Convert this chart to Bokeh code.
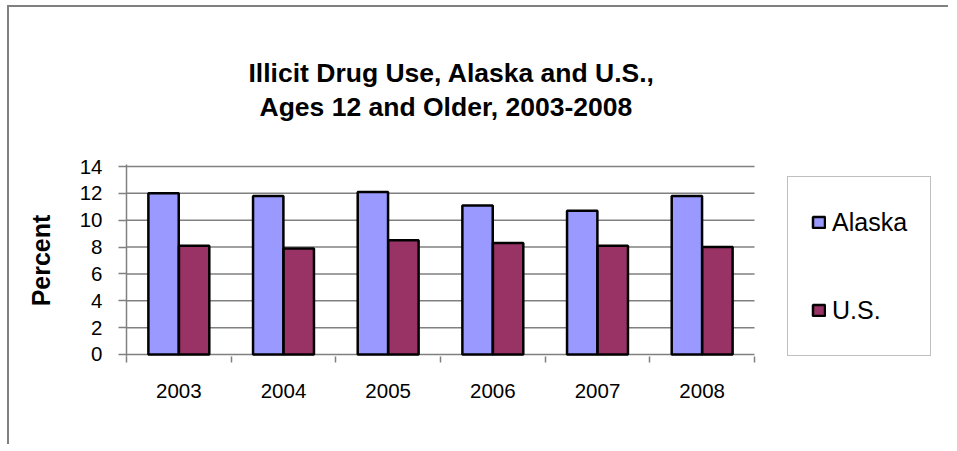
import numpy as np
from bokeh.plotting import figure
from bokeh.models import (ColumnDataSource, FixedTicker, Legend, LegendItem, Title,
                          InlineStyleSheet, Range1d)
from bokeh.embed import file_html
from bokeh.resources import INLINE

years = ["2003", "2004", "2005", "2006", "2007", "2008"]
alaska = [12.0, 11.8, 12.1, 11.1, 10.7, 11.8]
us = [8.1, 7.9, 8.5, 8.3, 8.1, 8.0]
y_ticks = [0, 2, 4, 6, 8, 10, 12, 14]
title_lines = ["Illicit Drug Use, Alaska and U.S.,", "Ages 12 and Older, 2003-2008"]

FONT = "Liberation Sans"
GRAY = "#808080"

n = len(years)
centers = np.arange(n) + 0.5
offset = 0.146
bar_w = 0.29

W, H = 948, 444
LEFT, RIGHT_PAD = 126, 0
frame_w = W - LEFT - RIGHT_PAD
x_end = n * frame_w / 628.0

src = ColumnDataSource(dict(
    xa=centers - offset, xu=centers + offset, alaska=alaska, us=us, year=years))
grid_src = ColumnDataSource(dict(x0=[0] * len(y_ticks), x1=[n] * len(y_ticks),
                                 y=y_ticks))

p = figure(width=W, height=H, output_backend="svg", toolbar_location=None,
           x_range=Range1d(0, x_end), y_range=Range1d(-0.15, 14.15),
           min_border_left=LEFT, min_border_right=RIGHT_PAD, min_border_top=164,
           min_border_bottom=H - 356, outline_line_color=None,
           background_fill_color="white", border_fill_color="white")

p.stylesheets = [InlineStyleSheet(css=""":host { position: relative; }
:host::before { content: ''; position: absolute; left: 7px; top: 5px; right: 0px; bottom: 0px;
 border-top: 2px solid #808080; border-left: 2px solid #808080;
 pointer-events: none; z-index: 50; }""")]

p.xgrid.visible = False
p.ygrid.visible = False

# horizontal gridlines spanning only the category area
p.segment(x0="x0", x1="x1", y0="y", y1="y", source=grid_src,
          line_color=GRAY, line_width=1.5)

r1 = p.vbar(x="xa", top="alaska", width=bar_w, bottom=0, source=src,
            fill_color="#9999FF", line_color="black", line_width=2.5)
r2 = p.vbar(x="xu", top="us", width=bar_w, bottom=0, source=src,
            fill_color="#993366", line_color="black", line_width=2.5)

# y axis
ya = p.yaxis[0]
ya.ticker = FixedTicker(ticks=y_ticks)
ya.axis_line_color = GRAY
ya.axis_line_width = 1.5
ya.major_tick_line_color = GRAY
ya.major_tick_line_width = 1.5
ya.major_tick_in = 0
ya.major_tick_out = 8
ya.minor_tick_line_color = None
ya.major_label_standoff = 16
ya.major_label_text_font = FONT
ya.major_label_text_font_size = "20.5px"
ya.major_label_text_color = "black"
ya.axis_label = "Percent"
ya.axis_label_text_font = FONT
ya.axis_label_text_font_size = "25px"
ya.axis_label_text_font_style = "bold"
ya.axis_label_text_color = "black"
ya.axis_label_standoff = 22

# x axis
xa = p.xaxis[0]
xa.ticker = FixedTicker(ticks=list(centers), minor_ticks=list(range(n + 1)))
xa.major_label_overrides = {float(c): y for c, y in zip(centers, years)}
xa.axis_line_color = None
xa.major_tick_line_color = None
xa.major_tick_in = 0
xa.major_tick_out = 0
xa.minor_tick_line_color = GRAY
xa.minor_tick_line_width = 1.5
xa.minor_tick_in = 0
xa.minor_tick_out = 6
xa.major_label_standoff = 21
xa.major_label_text_font = FONT
xa.major_label_text_font_size = "20.5px"
xa.major_label_text_color = "black"

# title: spacer, then line 2, then line 1 (stacked outward from the frame)
p.title.visible = False
p.add_layout(Title(text=" ", text_font=FONT, text_font_size="10px", standoff=30), "above")
p.add_layout(Title(text=title_lines[1], align="left", offset=133, standoff=0,
                   text_font=FONT, text_font_size="26.5px", text_font_style="bold",
                   text_color="black"), "above")
p.add_layout(Title(text=title_lines[0], align="left", offset=122, standoff=3,
                   text_font=FONT, text_font_size="26.5px", text_font_style="bold",
                   text_color="black"), "above")

legend = Legend(items=[LegendItem(label="Alaska", renderers=[r1]),
                       LegendItem(label="U.S.", renderers=[r2])],
                location=(661, 0), orientation="vertical",
                padding=23, spacing=44, margin=0,
                glyph_width=15, glyph_height=14, label_height=44,
                label_standoff=6, label_text_font=FONT, label_text_font_size="25px",
                label_text_color="black",
                border_line_color=GRAY, border_line_width=1.5,
                background_fill_color="white", background_fill_alpha=1.0)
p.add_layout(legend, "center")

open("out.html", "w").write(file_html(p, INLINE))
